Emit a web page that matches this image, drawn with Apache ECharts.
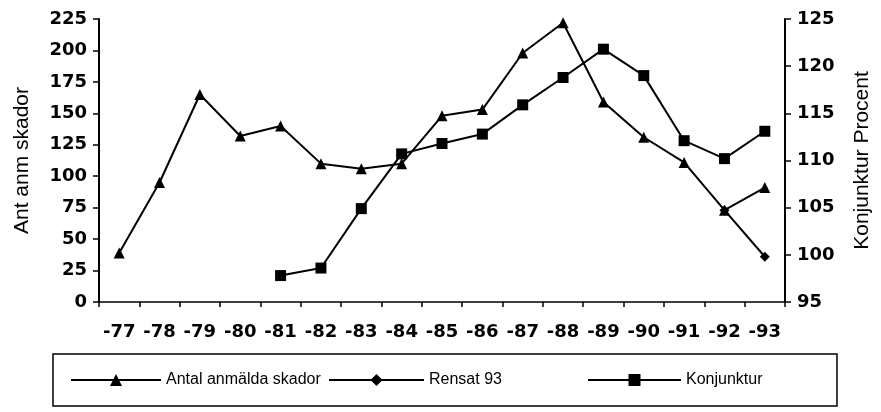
<!DOCTYPE html>
<html>
<head>
<meta charset="utf-8">
<script src="https://cdn.jsdelivr.net/npm/echarts@6/dist/echarts.min.js"></script>
<style>
  html, body { margin: 0; padding: 0; background: #fff; }
  #chart { width: 881px; height: 412px; }
</style>
</head>
<body>
<div id="chart"></div>
<script>
const years = ['-77', '-78', '-79', '-80', '-81', '-82', '-83', '-84', '-85',
  '-86', '-87', '-88', '-89', '-90', '-91', '-92', '-93']
// Antal anmälda skador (vänster axel)
const skador = [39, 95, 165, 132, 140, 110, 106, 110, 148, 153, 198, 222, 159, 131, 111, 73, 91]
// Rensat 93 (vänster axel), bara de två sista åren
const rensat = [null, null, null, null, null, null, null, null, null,
  null, null, null, null, null, null, 73, 36]
// Konjunktur (höger axel, procent)
const konjunktur = [null, null, null, null, 97.8, 98.6, 104.9, 110.7, 111.8,
  112.8, 115.9, 118.8, 121.8, 119, 112.1, 110.2, 113.1]

const tickFont = { fontFamily: 'DejaVu Sans', fontWeight: 'bold', fontSize: 18, color: '#000' }
const titleFont = { fontFamily: 'Liberation Sans', fontSize: 21, color: '#000' }
const legendFont = { fontFamily: 'Liberation Sans', fontSize: 16, color: '#000' }

const chart = echarts.init(document.getElementById('chart'))
chart.setOption({
  backgroundColor: '#fff',
  animation: false,
  grid: { left: 99, right: 91, top: 19, bottom: 110 },
  xAxis: {
    type: 'category',
    data: years,
    boundaryGap: true,
    axisLine: { lineStyle: { color: '#000', width: 1.5 } },
    axisTick: { show: true, length: 5, lineStyle: { color: '#000', width: 1.5 } },
    axisLabel: Object.assign({ margin: 21, interval: 0 }, tickFont),
  },
  yAxis: [
    {
      type: 'value',
      min: 0,
      max: 225,
      interval: 25,
      name: 'Ant anm skador',
      nameLocation: 'middle',
      nameRotate: 90,
      nameGap: 66,
      nameTextStyle: titleFont,
      axisLine: { show: true, lineStyle: { color: '#000', width: 2 } },
      axisTick: { show: true, length: 6, lineStyle: { color: '#000', width: 1.5 } },
      axisLabel: Object.assign({ margin: 12 }, tickFont),
      splitLine: { show: false },
    },
    {
      type: 'value',
      position: 'right',
      min: 95,
      max: 125,
      interval: 5,
      name: 'Konjunktur Procent',
      nameLocation: 'middle',
      nameRotate: 90,
      nameGap: 67,
      nameTextStyle: titleFont,
      axisLine: { show: true, lineStyle: { color: '#000', width: 2 } },
      axisTick: { show: true, length: 6, lineStyle: { color: '#000', width: 1.5 } },
      axisLabel: Object.assign({ margin: 12 }, tickFont),
      splitLine: { show: false },
    },
  ],
  legend: [
    {
      data: ['Antal anmälda skador'],
      left: 70, top: 372, padding: 0,
      itemWidth: 90, itemHeight: 15,
      textStyle: legendFont,
    },
    {
      data: ['Rensat 93'],
      left: 328, top: 372, padding: 0,
      itemWidth: 95, itemHeight: 15,
      textStyle: legendFont,
    },
    {
      data: ['Konjunktur'],
      left: 587, top: 372, padding: 0,
      itemWidth: 93, itemHeight: 15,
      textStyle: legendFont,
    },
  ],
  graphic: [
    {
      type: 'rect',
      shape: { x: 53, y: 354, width: 784, height: 52 },
      style: { fill: 'none', stroke: '#000', lineWidth: 1.5 },
      z: -1,
    },
  ],
  series: [
    {
      name: 'Rensat 93',
      type: 'line',
      yAxisIndex: 0,
      data: rensat,
      symbol: 'diamond',
      symbolSize: 10,
      itemStyle: { color: '#000' },
      lineStyle: { color: '#000', width: 2 },
      z: 2,
    },
    {
      name: 'Antal anmälda skador',
      type: 'line',
      yAxisIndex: 0,
      data: skador,
      symbol: 'triangle',
      symbolSize: 11,
      itemStyle: { color: '#000' },
      lineStyle: { color: '#000', width: 2 },
      z: 3,
    },
    {
      name: 'Konjunktur',
      type: 'line',
      yAxisIndex: 1,
      data: konjunktur,
      symbol: 'rect',
      symbolSize: 11,
      itemStyle: { color: '#000' },
      lineStyle: { color: '#000', width: 2 },
      z: 3,
    },
  ],
})
</script>
</body>
</html>
